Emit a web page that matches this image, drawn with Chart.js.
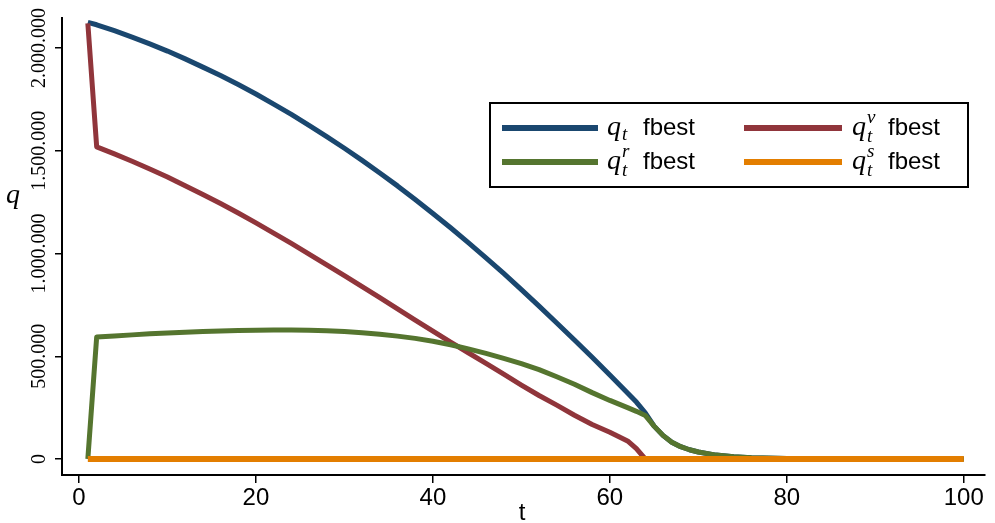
<!DOCTYPE html>
<html>
<head>
<meta charset="utf-8">
<script src="https://cdn.jsdelivr.net/npm/chart.js@4.4.1/dist/chart.umd.min.js"></script>
<style>
  html, body { margin: 0; padding: 0; background: #fff; }
  #wrap { width: 995px; height: 523px; position: relative; }
</style>
</head>
<body>
<div id="wrap"><canvas id="qChart"></canvas></div>
<script>
// periods t and the four series
const T = [1, 2, 4, 6, 8, 10, 12, 14, 16, 18, 20, 22, 24, 26, 28, 30, 32, 34, 36, 38, 40,
           42, 44, 46, 48, 50, 52, 54, 56, 58, 60, 62, 63, 64,
           65, 66, 67, 68, 69, 70, 72, 74, 76, 80, 90, 100];
const Q = [2125000, 2113000, 2084000, 2053000, 2020000, 1985000, 1947000, 1907000, 1866000, 1822000,
           1776000, 1727000, 1677000, 1624000, 1569000, 1512000, 1453000, 1392000, 1329000, 1263000,
           1195000, 1125000, 1053000, 979000, 903000, 824000, 744000, 662000, 579000, 495000,
           409000, 321000, 277000, 225000,
           160000, 115000, 82000, 60000, 45000, 34000, 19000, 11000, 6000, 2000, 0, 0];
const V = [2120000, 1519000, 1485000, 1449000, 1411000, 1372000, 1330000, 1287000, 1243000, 1197000,
           1149000, 1099000, 1049000, 997000, 945000, 892000, 839000, 785000, 731000, 676000,
           622000, 569000, 517000, 465000, 413000, 360000, 309000, 262000, 213000, 168000,
           130000, 88000, 50000, 0,
           null, null, null, null, null, null, null, null, null, null, null, null];
const R = [0, 594000, 599000, 604000, 609000, 613000, 617000, 620000, 623000, 625000,
           627000, 628000, 628000, 627000, 624000, 620000, 614000, 607000, 598000, 587000,
           573000, 556000, 536000, 514000, 490000, 464000, 435000, 400000, 364000, 323000,
           285000, 250000, 232000, 212000,
           160000, 115000, 82000, 60000, 45000, 34000, 19000, 11000, 6000, 2000, 0, 0];
const S = [0, 0, 0, 0, 0, 0, 0, 0, 0, 0, 0, 0, 0, 0, 0, 0, 0, 0, 0, 0, 0, 0, 0,
           0, 0, 0, 0, 0, 0, 0, 0, 0, 0, 0, 0, 0, 0, 0, 0, 0, 0, 0, 0, 0, 0, 0];

const X_TICKS = [0, 20, 40, 60, 80, 100];
const Y_TICKS = [0, 500000, 1000000, 1500000, 2000000];

const LEGEND = [
  { sup: '', label: 'fbest', color: '#1a476f' },
  { sup: 'v', label: 'fbest', color: '#90353b' },
  { sup: 'r', label: 'fbest', color: '#55752f' },
  { sup: 's', label: 'fbest', color: '#e37e00' }
];

function fmtDots(v) {
  return String(v).replace(/\B(?=(\d{3})+(?!\d))/g, '.');
}

function series(values) {
  return T.map((t, i) => ({ x: t, y: values[i] }));
}

const overlay = {
  id: 'overlay',
  afterDraw(chart) {
    const ctx = chart.ctx;
    const y = chart.scales.y;
    ctx.save();
    ctx.fillStyle = '#000';

    // rotated y tick labels
    ctx.font = '20px "Liberation Serif", serif';
    ctx.textAlign = 'center';
    ctx.textBaseline = 'middle';
    Y_TICKS.forEach(v => {
      ctx.save();
      ctx.translate(40, y.getPixelForValue(v));
      ctx.rotate(-Math.PI / 2);
      ctx.fillText(fmtDots(v), 0, 0);
      ctx.restore();
    });

    // axis titles
    ctx.textBaseline = 'alphabetic';
    ctx.textAlign = 'left';
    ctx.font = 'italic 28px "Liberation Serif", serif';
    ctx.fillText('q', 6, 203);
    ctx.textAlign = 'center';
    ctx.font = '24px "Liberation Sans", sans-serif';
    ctx.fillText('t', 522, 520);

    // legend box
    ctx.fillStyle = '#fff';
    ctx.fillRect(490, 103, 478, 84);
    ctx.strokeStyle = '#000';
    ctx.lineWidth = 2;
    ctx.strokeRect(490, 103, 478, 84);

    const cols = [{ x0: 502, x1: 598, q: 607, txt: 643 }, { x0: 744, x1: 842, q: 852, txt: 888 }];
    const rows = [128, 162];
    LEGEND.forEach((item, i) => {
      const c = cols[i % 2];
      const ly = rows[Math.floor(i / 2)];
      ctx.strokeStyle = item.color;
      ctx.lineWidth = 6;
      ctx.beginPath();
      ctx.moveTo(c.x0, ly);
      ctx.lineTo(c.x1, ly);
      ctx.stroke();

      const base = ly + 7;
      ctx.fillStyle = '#000';
      ctx.textAlign = 'left';
      ctx.font = 'italic 28px "Liberation Serif", serif';
      ctx.fillText('q', c.q, base);
      const qw = ctx.measureText('q').width;
      ctx.font = 'italic 19px "Liberation Serif", serif';
      if (item.sup) {
        ctx.fillText('t', c.q + qw + 1, base + 7);
        ctx.fillText(item.sup, c.q + qw + 1, base - 12);
      } else {
        ctx.fillText('t', c.q + qw + 1, base + 5);
      }
      ctx.font = '24px "Liberation Sans", sans-serif';
      ctx.fillText(item.label, c.txt, base);
    });
    ctx.restore();
  }
};

function initChart() {
  const ctx = document.getElementById('qChart').getContext('2d');
  const common = { pointRadius: 0, borderWidth: 5, fill: false, borderJoinStyle: 'round',
                   tension: 0, spanGaps: false };

  new Chart(ctx, {
    type: 'line',
    data: {
      datasets: [
        { ...common, label: 'q_t fbest', data: series(Q), borderColor: '#1a476f', order: 4 },
        { ...common, label: 'q_t^v fbest', data: series(V), borderColor: '#90353b', order: 3 },
        { ...common, label: 'q_t^r fbest', data: series(R), borderColor: '#55752f', order: 2 },
        { ...common, label: 'q_t^s fbest', data: series(S), borderColor: '#e37e00', borderWidth: 6, order: 1 }
      ]
    },
    options: {
      responsive: true,
      maintainAspectRatio: false,
      animation: false,
      layout: { padding: { top: 18, right: 10, left: 0, bottom: 0 } },
      plugins: {
        legend: { display: false },
        tooltip: { enabled: false }
      },
      scales: {
        x: {
          type: 'linear',
          min: -1.92,
          max: 102.4,
          afterBuildTicks: s => { s.ticks = X_TICKS.map(v => ({ value: v })); },
          afterFit: s => { s.height = 48; },
          ticks: {
            color: '#000',
            font: { family: 'Liberation Sans', size: 24 },
            padding: 1,
            maxRotation: 0,
            autoSkip: false
          },
          grid: { drawOnChartArea: false, tickLength: 8, color: '#000', lineWidth: 1.5 },
          border: { color: '#000', width: 2 }
        },
        y: {
          type: 'linear',
          min: -77860,
          max: 2146000,
          afterBuildTicks: s => { s.ticks = Y_TICKS.map(v => ({ value: v })); },
          afterFit: s => { s.width = 62; },
          ticks: { color: 'rgba(0,0,0,0)', callback: v => fmtDots(v) },
          grid: { drawOnChartArea: false, tickLength: 7, color: '#000', lineWidth: 1.5 },
          border: { color: '#000', width: 2 }
        }
      }
    },
    plugins: [overlay]
  });
}

document.addEventListener('DOMContentLoaded', initChart);
</script>
</body>
</html>
